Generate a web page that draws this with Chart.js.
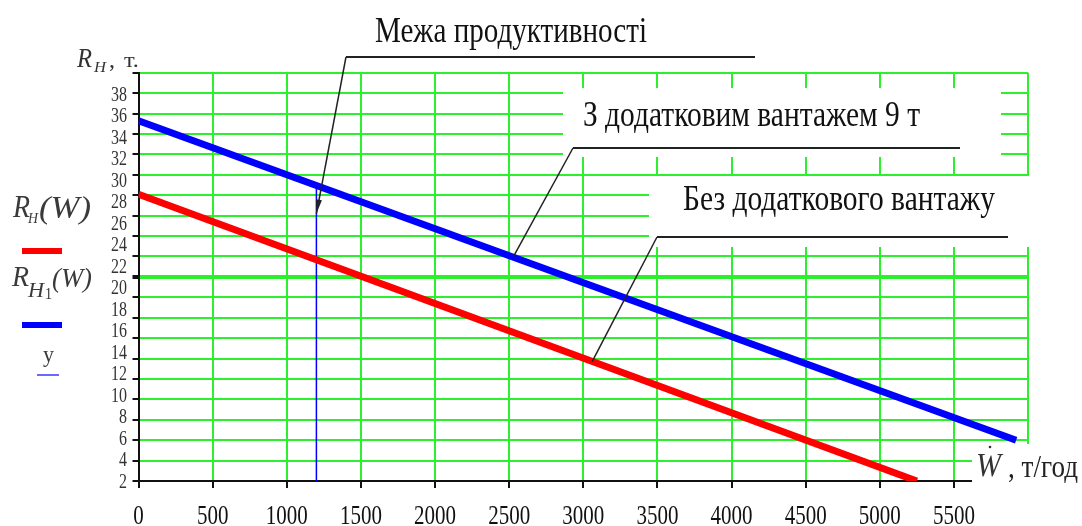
<!DOCTYPE html>
<html>
<head>
<meta charset="utf-8">
<script src="https://cdn.jsdelivr.net/npm/chart.js@4.4.0/dist/chart.umd.min.js"></script>
<style>
  html, body { margin: 0; padding: 0; background: #fff; }
  #wrap { width: 1082px; height: 526px; }
</style>
</head>
<body>
<div id="wrap"><canvas id="chart" width="1082" height="526"></canvas></div>
<script>
// R_H(W) - без додаткового вантажу
const wNoLoad = [0, 5250];
const rNoLoad = [28.1, 0];
// R_H1(W) - з додатковим вантажем 9 т
const wLoad = [0, 5920];
const rLoad = [35.3, 4.0];
// y - межа продуктивності
const wLimit = [1200, 1200];
const rLimit = [0, 28.9];

const xTickLabels = [0, 500, 1000, 1500, 2000, 2500, 3000, 3500, 4000, 4500, 5000, 5500];
const yTickLabels = [2, 4, 6, 8, 10, 12, 14, 16, 18, 20, 22, 24, 26, 28, 30, 32, 34, 36, 38];

const SERIF = '"Liberation Serif", "Times New Roman", serif';
const GREEN = '#2cf02c';

function toPoints(xs, ys) {
    return xs.map((x, i) => ({ x: x, y: ys[i] }));
}

// text drawn with its own horizontal / vertical stretch
function drawText(ctx, str, x, base, size, opt) {
    opt = opt || {};
    ctx.save();
    ctx.font = (opt.italic ? 'italic ' : '') + size + 'px ' + SERIF;
    ctx.fillStyle = opt.color || '#111';
    ctx.textBaseline = 'alphabetic';
    ctx.textAlign = 'left';
    const m = ctx.measureText(str).width;
    const sx = opt.w ? opt.w / m : (opt.sx || 1);
    const sy = opt.sy || 1;
    let left = x;
    if (opt.align === 'right') left = x - m * sx;
    if (opt.align === 'center') left = x - m * sx / 2;
    ctx.translate(left, base);
    ctx.scale(sx, sy);
    ctx.fillText(str, 0, 0);
    ctx.restore();
}

const callouts = [
    { text: 'Межа продуктивності', x: 375, base: 42, size: 36, w: 272, lineY: 57, lineEnd: 755, elbow: 346, tip: [1200, 26.2], arrow: true },
    { text: 'З додатковим вантажем 9 т', x: 583, base: 126, size: 35, w: 337, lineY: 148, lineEnd: 960, elbow: 573, tip: [2530, 22.0] },
    { text: 'Без додаткового вантажу', x: 683, base: 210, size: 35, w: 312, lineY: 237, lineEnd: 1008, elbow: 657, tip: [3060, 11.7] }
];

const decor = {
    id: 'decor',
    beforeDatasetsDraw(chart) {
        const ctx = chart.ctx;
        ctx.save();
        ctx.fillStyle = '#fff';
        ctx.fillRect(563, 88, 438, 69);
        ctx.fillRect(649, 176, 390, 71);
        ctx.fillRect(972, 444, 110, 50);
        ctx.restore();
    },
    afterDatasetsDraw(chart) {
        const ctx = chart.ctx;
        const xs = chart.scales.x;
        const ys = chart.scales.y;
        const yl = chart.scales.yl;

        // tick labels
        yTickLabels.forEach(v => {
            const py = yl.getPixelForValue(v);
            drawText(ctx, String(v), 127, py + 6.6, 20, { sx: 0.8, align: 'right', color: '#333' });
        });
        xTickLabels.forEach(v => {
            const px = xs.getPixelForValue(v);
            drawText(ctx, String(v), px, 524, 28, { sx: 0.75, align: 'center', color: '#111' });
        });

        // callouts
        callouts.forEach(c => {
            drawText(ctx, c.text, c.x, c.base, c.size, { w: c.w });
            const tx = xs.getPixelForValue(c.tip[0]);
            const ty = ys.getPixelForValue(c.tip[1]);
            ctx.save();
            ctx.strokeStyle = '#222';
            ctx.lineWidth = 2;
            ctx.beginPath();
            ctx.moveTo(c.lineEnd, c.lineY);
            ctx.lineTo(c.elbow, c.lineY);
            ctx.stroke();
            ctx.lineWidth = 1.5;
            ctx.beginPath();
            ctx.moveTo(c.elbow, c.lineY);
            ctx.lineTo(tx, ty);
            ctx.stroke();
            if (c.arrow) {
                const a = Math.atan2(ty - c.lineY, tx - c.elbow);
                ctx.fillStyle = '#222';
                ctx.beginPath();
                ctx.moveTo(tx, ty);
                ctx.lineTo(tx - 14 * Math.cos(a) + 3 * Math.sin(a), ty - 14 * Math.sin(a) - 3 * Math.cos(a));
                ctx.lineTo(tx - 14 * Math.cos(a) - 3 * Math.sin(a), ty - 14 * Math.sin(a) + 3 * Math.cos(a));
                ctx.closePath();
                ctx.fill();
            }
            ctx.restore();
        });

        // axis titles
        drawText(ctx, 'R', 77, 67, 28, { italic: true, w: 15, color: '#333' });
        drawText(ctx, 'H', 94, 72, 14, { italic: true, w: 12, color: '#333' });
        drawText(ctx, ',', 109, 67, 24, { color: '#333' });
        drawText(ctx, 'т.', 124, 67, 22, { w: 15, color: '#333' });

        drawText(ctx, 'W', 976, 476, 34, { italic: true, w: 25, color: '#333' });
        ctx.save();
        ctx.fillStyle = '#333';
        ctx.beginPath();
        ctx.arc(990, 447, 1.3, 0, Math.PI * 2);
        ctx.fill();
        ctx.restore();
        drawText(ctx, ', т/год', 1008, 477, 32, { w: 70, color: '#222' });

        // legend
        drawText(ctx, 'R', 13, 217, 32, { italic: true, w: 17, color: '#3a3a3a' });
        drawText(ctx, 'H', 28, 223, 15, { italic: true, w: 10, color: '#3a3a3a' });
        drawText(ctx, '(W)', 39, 218, 32, { italic: true, w: 52, color: '#3a3a3a' });
        drawText(ctx, 'R', 12, 286, 30, { italic: true, w: 17, color: '#3a3a3a' });
        drawText(ctx, 'H', 28, 297, 20, { italic: true, w: 16, color: '#3a3a3a' });
        drawText(ctx, '1', 45, 299, 17, { w: 7, color: '#3a3a3a' });
        drawText(ctx, '(W)', 52, 287, 28, { italic: true, w: 40, color: '#3a3a3a' });
        ctx.save();
        ctx.fillStyle = '#ff0000';
        ctx.fillRect(22, 248, 40, 6);
        ctx.fillStyle = '#0000ff';
        ctx.fillRect(22, 322, 40, 6);
        ctx.restore();
        drawText(ctx, 'y', 43, 362, 24, { w: 11, color: '#3a3a3a' });
        ctx.save();
        ctx.strokeStyle = '#6a6aff';
        ctx.lineWidth = 2;
        ctx.beginPath();
        ctx.moveTo(37, 375);
        ctx.lineTo(59, 375);
        ctx.stroke();
        ctx.restore();
    }
};

const ctx = document.getElementById('chart').getContext('2d');
const chart = new Chart(ctx, {
    type: 'scatter',
    data: {
        datasets: [
            {
                label: 'R_H(W)',
                data: toPoints(wNoLoad, rNoLoad),
                showLine: true,
                borderColor: '#ff0000',
                borderWidth: 7,
                pointRadius: 0,
                clip: 0
            },
            {
                label: 'R_H1(W)',
                data: toPoints(wLoad, rLoad),
                showLine: true,
                borderColor: '#0000ff',
                borderWidth: 7,
                pointRadius: 0,
                clip: 0
            },
            {
                label: 'y',
                data: toPoints(wLimit, rLimit),
                showLine: true,
                borderColor: '#0000ff',
                borderWidth: 1.5,
                pointRadius: 0,
                clip: 0
            }
        ]
    },
    options: {
        responsive: false,
        animation: false,
        events: [],
        layout: { padding: { left: 130.5, right: 54, top: 72.7, bottom: 0 } },
        plugins: { legend: { display: false }, tooltip: { enabled: false } },
        scales: {
            x: {
                type: 'linear',
                min: 0,
                max: 6000,
                ticks: { stepSize: 500, display: false },
                grid: { color: GREEN, lineWidth: 2, tickColor: '#111', tickLength: 7 },
                border: { color: '#111', width: 2 },
                afterFit: s => { s.height = 45; }
            },
            y: {
                type: 'linear',
                position: 'left',
                weight: 0,
                min: 0,
                max: 40,
                ticks: { stepSize: 2, display: false },
                grid: {
                    color: GREEN,
                    lineWidth: c => (c.tick && c.tick.value === 20 ? 4 : 2),
                    tickColor: '#111',
                    tickLength: 6
                },
                border: { color: '#111', width: 2 },
                afterFit: s => { s.width = 8; }
            },
            yl: {
                type: 'linear',
                position: 'left',
                display: false,
                min: 2,
                max: 40,
                ticks: { stepSize: 2 }
            }
        }
    },
    plugins: [decor]
});
</script>
</body>
</html>
